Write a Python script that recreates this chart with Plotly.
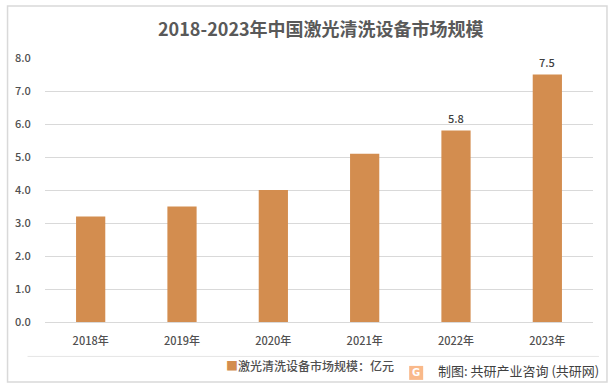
import plotly.graph_objects as go

W, H = 615, 388
categories = ["2018年", "2019年", "2020年", "2021年", "2022年", "2023年"]
values = [3.2, 3.5, 4.0, 5.1, 5.8, 7.5]
labelled = [False, False, False, False, True, True]
y_ticks = [0, 1, 2, 3, 4, 5, 6, 7, 8]
series_name = "激光清洗设备市场规模：亿元"
title_text = "2018-2023年中国激光清洗设备市场规模"
credit_text = "制图: 共研产业咨询 (共研网)"

FONT = "Noto Sans CJK SC"
MEDIUM = "'Noto Sans CJK SC Medium', 'Noto Sans CJK SC'"
BAR = "#D38D4F"
TEXT = "#505050"
L, R, T, B = 44.5, 593, 57.5, 322

def px(x):
    return (x - L) / (R - L)

def py(y):
    return (B - y) / (B - T)

fig = go.Figure(go.Bar(
    x=categories, y=values, name=series_name,
    marker=dict(color=BAR, line=dict(width=0)),
    width=0.32, showlegend=False, cliponaxis=False,
))

def rect(x0, y0, x1, y1, color, width=1, fill=None):
    return dict(type="rect", xref="paper", yref="paper", layer="below",
                x0=px(x0), x1=px(x1), y0=py(y0), y1=py(y1),
                line=dict(color=color, width=width), fillcolor=fill)

shapes = [
    rect(7, 5.5, 607, 382, "#D9D9D9", 1.5),
    dict(type="line", xref="paper", yref="paper", x0=px(27), x1=px(599),
         y0=py(356.5), y1=py(356.5), line=dict(color="#E6E6E6", width=1)),
    rect(409, 366, 423, 380, "rgba(0,0,0,0)", 0, "#F9B98A"),
]

annotations = [
    dict(text=f"<b>{title_text}</b>", xref="paper", yref="paper",
         x=px(321), y=py(27.5), xanchor="center", yanchor="middle", showarrow=False,
         font=dict(family=FONT, size=18, color="#595959")),
    dict(text=f"<span style='color:{BAR}'>■</span>{series_name}", xref="paper", yref="paper",
         x=px(224), y=py(365.5), xanchor="left", yanchor="middle", showarrow=False,
         font=dict(family=MEDIUM, size=12, color=TEXT)),
    dict(text=credit_text, xref="paper", yref="paper",
         x=px(436), y=py(371), xanchor="left", yanchor="middle", showarrow=False,
         font=dict(family=FONT, size=13, color="#404040")),
    dict(text="<b>G</b>", xref="paper", yref="paper",
         x=px(416), y=py(373), xanchor="center", yanchor="middle", showarrow=False,
         font=dict(family="DejaVu Sans", size=10, color="#FFFFFF")),
]
for c, v, show in zip(categories, values, labelled):
    if show:
        annotations.append(dict(
            text=f"{v:.1f}", x=c, y=v, xref="x", yref="y", yshift=13,
            xanchor="center", yanchor="middle", showarrow=False,
            font=dict(family=MEDIUM, size=11, color="#404040")))

fig.update_layout(
    width=W, height=H, autosize=False, showlegend=False,
    margin=dict(l=L, r=W - R, t=T, b=H - B, pad=0, autoexpand=False),
    paper_bgcolor="white", plot_bgcolor="white",
    font=dict(family=FONT, color=TEXT),
    shapes=shapes, annotations=annotations,
    xaxis=dict(type="category", categoryorder="array", categoryarray=categories,
               showgrid=False, ticks="outside", ticklen=9, tickcolor="rgba(0,0,0,0)",
               showline=True, linecolor="#D9D9D9", linewidth=1,
               tickfont=dict(family=MEDIUM, size=11, color=TEXT), automargin=False),
    yaxis=dict(range=[0, 8], tickvals=y_ticks, ticktext=[f"{v:.1f}" for v in y_ticks],
               showgrid=True, gridcolor="#D9D9D9", gridwidth=1, zeroline=False,
               ticks="outside", ticklen=11, tickcolor="rgba(0,0,0,0)",
               tickfont=dict(family=MEDIUM, size=11, color=TEXT),
               automargin=False),
)

fig.write_html("out.html", config={"displayModeBar": False},
               post_script="document.body.style.margin='0';")
